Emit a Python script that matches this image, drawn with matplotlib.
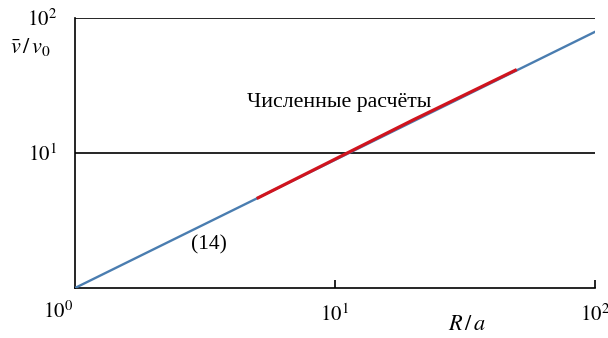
import numpy as np
import matplotlib
matplotlib.use("Agg")
import matplotlib.pyplot as plt

plt.rcParams['font.family'] = 'serif'
plt.rcParams['font.serif'] = ['Liberation Serif', 'DejaVu Serif']
plt.rcParams['mathtext.fontset'] = 'stix'

# formula (14)
R_theory = [1, 100]
v_theory = [1, 79]

# numerical results
R_num = [5, 10, 20, 50]
v_num = [4.6, 9.0, 17.6, 41.5]

fig = plt.figure(figsize=(6.08, 3.38), dpi=100)
ax = fig.add_axes([75 / 608, 50 / 338, 520 / 608, 270 / 338])

ax.plot(R_theory, v_theory, color='#4a7db0', lw=1.7, zorder=3)
ax.plot(R_num, v_num, color='#d0141e', lw=2.3, zorder=4, solid_capstyle='butt')

ax.set_xscale('log')
ax.set_yscale('log')
ax.set_xlim(1, 100)
ax.set_ylim(1, 100)

for y in [10, 100]:
    ax.axhline(y, color='black', lw=1.2, zorder=2)

for s in ['top', 'right']:
    ax.spines[s].set_visible(False)
ax.spines['left'].set_linewidth(1.2)
ax.spines['bottom'].set_linewidth(1.2)

ax.set_xticks([10, 100])
ax.set_xticklabels([r'$10^1$', r'$10^2$'], fontsize=15)
ax.xaxis.set_minor_locator(matplotlib.ticker.NullLocator())
ax.tick_params(axis='x', direction='in', length=6, width=1.2, pad=12)

ax.set_yticks([10, 100])
ax.set_yticklabels([r'$10^1$', r'$10^2$'], fontsize=15)
ax.yaxis.set_minor_locator(matplotlib.ticker.NullLocator())
ax.tick_params(axis='y', length=0, pad=13)

ax.text(-0.033, -0.09, r'$10^0$', transform=ax.transAxes, fontsize=15,
        ha='center', va='center')
fig.text(30 / 608, 1 - 47 / 338, r'$\bar{v}\,/\,v_0$', fontsize=16,
         ha='center', va='center')
fig.text(467 / 608, 1 - 325 / 338, r'$R\,/\,a$', fontsize=16,
         ha='center', va='center')

ax.text(4.6, 23.5, 'Численные расчёты', fontsize=15.7, ha='left', va='center')
ax.text(2.8, 2.08, '(14)', fontsize=15.5, ha='left', va='center')

fig.savefig('out.png', dpi=100)
